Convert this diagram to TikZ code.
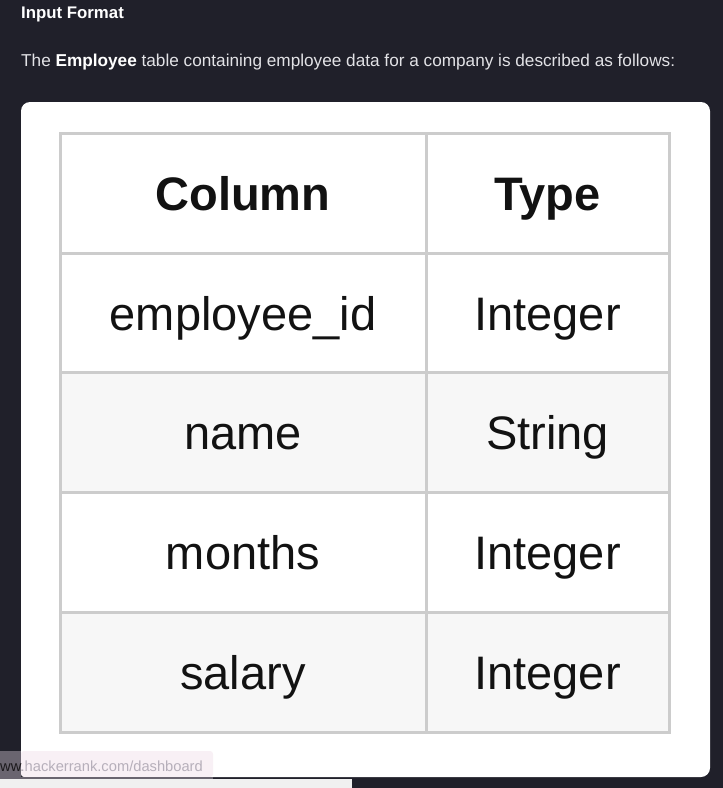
\documentclass[tikz,border=0pt]{standalone}
\usepackage{fontspec}
\setmainfont{Liberation Sans}
\newfontfamily\tblfont{Liberation Sans}
\definecolor{bgdark}{HTML}{20202A}
\definecolor{gridgray}{HTML}{CCCCCC}
\definecolor{rowgray}{HTML}{F7F7F7}
\definecolor{txtlight}{HTML}{E2E2E6}
\definecolor{tipbg}{HTML}{F8F0F5}
\definecolor{tipdark}{HTML}{6A6570}
\definecolor{tiptxt}{HTML}{B6AFBA}
\definecolor{barlight}{HTML}{F0F0F0}
\begin{document}
\begin{tikzpicture}[x=1pt,y=-1pt,
  cellbox/.style={draw=gridgray, line width=3pt, rectangle, inner sep=0pt,
    minimum height=120pt, text height=34pt, text depth=0pt,
    font=\tblfont\fontsize{47}{50}\selectfont, text=black!93},
  colA/.style={cellbox, minimum width=366pt},
  colB/.style={cellbox, minimum width=243pt},
  hdr/.style={font=\tblfont\bfseries\fontsize{47}{50}\selectfont},
  toptext/.style={anchor=base west, inner sep=0pt}]
\useasboundingbox (0,0) rectangle (723,788);
\fill[bgdark] (0,0) rectangle (723,788);
% card
\fill[white, rounded corners=9pt] (21,102) rectangle (710,777);
% top texts
\node[toptext, text=white, font=\bfseries\fontsize{16.8}{19}\selectfont] (title) at (21,18.5) {Input Format};
\node[toptext, text=txtlight, font=\fontsize{17.2}{20}\selectfont] (desc) at (21,66) {The \textbf{\color{white}Employee} table containing employee data for a company is described as follows:};
% table
\node[colA, fill=white, hdr] (h1) at (243,193) {Column};
\node[colB, fill=white, hdr] (h2) at (547.5,193) {Type};
\node[colA, fill=white] (r1a) at (243,313) {employee\_id};
\node[colB, fill=white] (r1b) at (547.5,313) {Integer};
\node[colA, fill=rowgray] (r2a) at (243,432) {name};
\node[colB, fill=rowgray] (r2b) at (547.5,432) {String};
\node[colA, fill=white] (r3a) at (243,552) {months};
\node[colB, fill=white] (r3b) at (547.5,552) {Integer};
\node[colA, fill=rowgray] (r4a) at (243,672) {salary};
\node[colB, fill=rowgray] (r4b) at (547.5,672) {Integer};
% bottom bar and tooltip
\fill[barlight] (0,778.5) rectangle (352,788);
\fill[tipdark] (0,751) rectangle (21,778);
\fill[tipbg, rounded corners=3pt] (21,751) -- (213,751) -- (213,777) -- (21,777) -- cycle;
\fill[tipdark] (0,777) rectangle (213,778.5);
\begin{scope}
\clip (21,745) rectangle (230,778);
\node[anchor=base west, inner sep=0pt, text=tiptxt, font=\fontsize{14.7}{16}\selectfont] (url) at (0,771) {ww.hackerrank.com/dashboard};
\end{scope}
\begin{scope}
\clip (0,745) rectangle (21,778);
\node[anchor=base west, inner sep=0pt, text=black!75!tipdark, font=\fontsize{14.7}{16}\selectfont] (urlb) at (0,771) {ww.hackerrank.com/dashboard};
\end{scope}
\end{tikzpicture}
\end{document}
